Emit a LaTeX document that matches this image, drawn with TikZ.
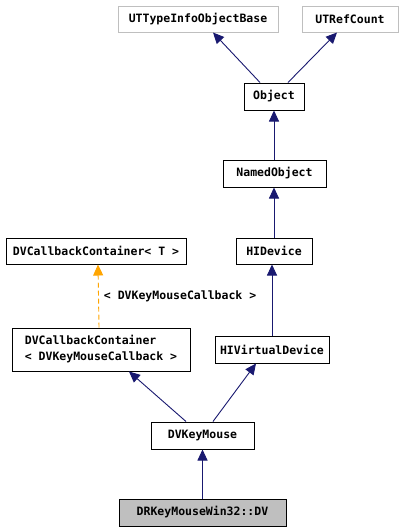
\documentclass[tikz,border=0pt]{standalone}
\usepackage{fontspec}
\setmonofont{DejaVu Sans Mono}
\usetikzlibrary{arrows.meta}
\definecolor{navy}{HTML}{191970}
\definecolor{graybd}{HTML}{BFBFBF}
\definecolor{orng}{HTML}{FFA500}
\tikzset{
  box/.style={draw=black, line width=1pt, fill=white, inner sep=0pt, font=\ttfamily\bfseries\fontsize{11.5}{16}\selectfont, text=black},
  ghost/.style={box, draw=graybd},
  edge/.style={draw=navy, line width=0.9pt, -{Triangle[length=11pt,width=10pt]}},
  tedge/.style={draw=orng, line width=0.9pt, dashed, dash pattern=on 5pt off 3pt, -{Triangle[length=11pt,width=10pt]}},
  lbl/.style={font=\ttfamily\bfseries\fontsize{11.5}{14}\selectfont, inner sep=0pt, text=black}
}
\begin{document}
\begin{tikzpicture}[x=1pt,y=-1pt]
\useasboundingbox[fill=white] (0,0) rectangle (403,531);
\node[ghost, minimum width=160, minimum height=26] (utti) at (198,19) {UTTypeInfoObjectBase};
\node[ghost, minimum width=96, minimum height=26] (utref) at (350,19) {UTRefCount};
\node[box, minimum width=60, minimum height=27] (obj) at (274,96.5) {Object};
\node[box, minimum width=103, minimum height=27] (named) at (274.5,173.5) {NamedObject};
\node[box, minimum width=180, minimum height=26] (dvcct) at (96,251) {DVCallbackContainer< T >};
\node[box, minimum width=76, minimum height=26] (hidev) at (274,251) {HIDevice};
\node[box, minimum width=178, minimum height=43, align=left] (dvcc2) at (101,349.5) {DVCallbackContainer\\< DVKeyMouseCallback >};
\node[box, minimum width=114, minimum height=27] (hivirt) at (272,349.5) {HIVirtualDevice};
\node[box, minimum width=103, minimum height=27] (dvkm) at (202.5,435.5) {DVKeyMouse};
\node[box, fill=graybd, minimum width=167, minimum height=27] (drkm) at (202.5,512.5) {DRKeyMouseWin32::DV};
\draw[edge] ([xshift=-14pt]obj.north) -- ([xshift=15pt]utti.south);
\draw[edge] ([xshift=14pt]obj.north) -- ([xshift=-13pt]utref.south);
\draw[edge] (named.north -| obj.south) -- (obj.south);
\draw[edge] (hidev.north) -- (hidev.north |- named.south);
\draw[edge] (hivirt.north) -- (hivirt.north |- hidev.south);
\draw[tedge] ([xshift=-2pt]dvcc2.north) -- node[lbl, anchor=west, xshift=5pt] (lab) {< DVKeyMouseCallback >} ([xshift=2pt]dvcct.south);
\draw[edge] ([xshift=-16.5pt]dvkm.north) -- ([xshift=28pt]dvcc2.south);
\draw[edge] ([xshift=10.5pt]dvkm.north) -- ([xshift=-16pt]hivirt.south);
\draw[edge] (drkm.north) -- (dvkm.south);
\end{tikzpicture}
\end{document}
